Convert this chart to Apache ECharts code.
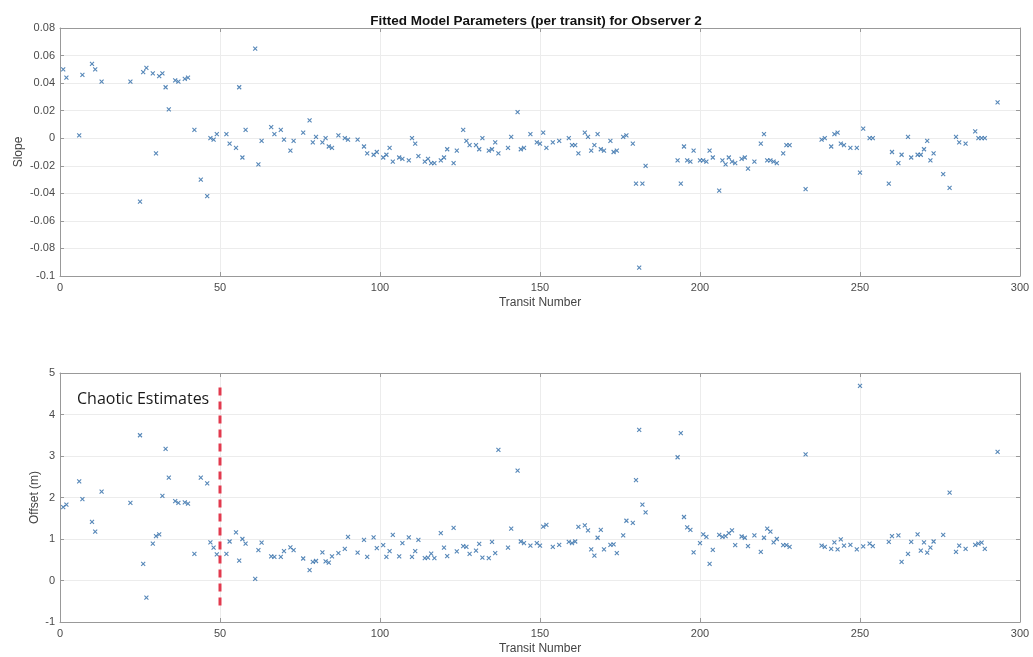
<!DOCTYPE html>
<html>
<head>
<meta charset="utf-8">
<script src="https://cdn.jsdelivr.net/npm/echarts@6/dist/echarts.min.js"></script>
<style>html,body{margin:0;padding:0;background:#fff;}#chart{width:1033px;height:657px;}</style>
</head>
<body>
<div id="chart"></div>
<script>
// Transit numbers (shared by both panels)
const transits = [
  1,2,6,7,10,11,13,22,25,26,
  27,29,30,31,32,33,34,36,37,39,
  40,42,44,46,47,48,49,52,53,55,
  56,57,58,61,62,63,66,67,69,70,
  72,73,76,78,79,80,82,83,84,85,
  87,89,90,93,95,96,98,99,101,102,
  103,104,106,107,109,110,111,112,114,115,
  116,117,119,120,121,123,124,126,127,128,
  130,131,132,134,135,136,137,140,141,143,
  144,145,147,149,150,151,152,154,156,159,
  160,161,162,164,165,166,167,168,169,170,
  172,173,174,176,177,179,180,181,182,183,
  193,194,195,196,197,198,200,201,202,203,
  204,206,207,208,209,210,211,213,214,215,
  217,219,220,221,222,223,224,226,227,228,
  233,238,239,241,242,243,244,245,247,249,
  250,251,253,254,259,260,262,263,265,266,
  268,269,270,271,272,273,276,278,280,281,
  283,286,287,288,289,293
];
// Slope per transit
const slopeValues = [
  0.050,0.044,0.002,0.046,0.054,0.050,0.041,0.041,-0.046,0.048,
  0.051,0.047,-0.011,0.045,0.047,0.037,0.021,0.042,0.041,0.043,
  0.044,0.006,-0.030,-0.042,0.000,-0.001,0.003,0.003,-0.004,-0.007,
  0.037,-0.014,0.006,0.065,-0.019,-0.002,0.008,0.003,0.006,-0.001,
  -0.009,-0.002,0.004,0.013,-0.003,0.001,-0.003,0.000,-0.006,-0.007,
  0.002,0.000,-0.001,-0.001,-0.006,-0.011,-0.012,-0.010,-0.014,-0.012,
  -0.007,-0.017,-0.014,-0.015,-0.016,0.000,-0.004,-0.013,-0.017,-0.015,
  -0.018,-0.018,-0.016,-0.014,-0.008,-0.018,-0.009,0.006,-0.002,-0.005,
  -0.005,-0.008,0.000,-0.009,-0.008,-0.003,-0.011,-0.007,0.001,0.019,
  -0.008,-0.007,0.003,-0.003,-0.004,0.004,-0.007,-0.003,-0.002,0.000,
  -0.005,-0.005,-0.011,0.004,0.001,-0.009,-0.005,0.003,-0.008,-0.009,
  -0.002,-0.010,-0.009,0.001,0.002,-0.004,-0.033,-0.094,-0.033,-0.020,
  -0.016,-0.033,-0.006,-0.016,-0.017,-0.009,-0.016,-0.016,-0.017,-0.009,
  -0.014,-0.038,-0.016,-0.019,-0.014,-0.017,-0.018,-0.015,-0.014,-0.022,
  -0.017,-0.004,0.003,-0.016,-0.016,-0.017,-0.018,-0.011,-0.005,-0.005,
  -0.037,-0.001,0.000,-0.006,0.003,0.004,-0.004,-0.005,-0.007,-0.007,
  -0.025,0.007,0.000,0.000,-0.033,-0.010,-0.018,-0.012,0.001,-0.014,
  -0.012,-0.012,-0.008,-0.002,-0.016,-0.011,-0.026,-0.036,0.001,-0.003,
  -0.004,0.005,0.000,0.000,0.000,0.026
];
// Offset (m) per transit
const offsetValues = [
  1.77,1.83,2.39,1.96,1.41,1.18,2.14,1.87,3.50,0.40,
  -0.41,0.89,1.07,1.11,2.04,3.17,2.48,1.91,1.87,1.88,
  1.85,0.64,2.48,2.34,0.92,0.79,0.63,0.64,0.94,1.16,
  0.48,1.00,0.89,0.04,0.73,0.91,0.58,0.57,0.57,0.71,
  0.80,0.73,0.53,0.25,0.45,0.47,0.68,0.46,0.43,0.58,
  0.66,0.76,1.05,0.67,0.98,0.57,1.04,0.78,0.85,0.57,
  0.71,1.10,0.58,0.90,1.04,0.57,0.71,0.98,0.54,0.55,
  0.65,0.54,1.14,0.79,0.59,1.27,0.70,0.83,0.81,0.64,
  0.72,0.88,0.55,0.54,0.93,0.66,3.15,0.79,1.25,2.65,
  0.94,0.90,0.84,0.90,0.84,1.30,1.34,0.81,0.86,0.93,
  0.90,0.94,1.29,1.33,1.21,0.75,0.60,1.03,1.22,0.75,
  0.86,0.87,0.66,1.09,1.44,1.39,2.42,3.63,1.83,1.64,
  2.97,3.55,1.53,1.28,1.22,0.68,0.90,1.11,1.05,0.40,
  0.74,1.10,1.05,1.07,1.14,1.21,0.85,1.06,1.03,0.83,
  1.09,0.69,1.03,1.25,1.18,0.92,1.00,0.85,0.85,0.81,
  3.04,0.84,0.81,0.76,0.92,0.75,0.99,0.84,0.86,0.75,
  4.69,0.82,0.89,0.83,0.93,1.07,1.09,0.45,0.64,0.93,
  1.11,0.72,0.92,0.67,0.79,0.94,1.10,2.12,0.69,0.84,
  0.76,0.86,0.89,0.91,0.76,3.10
];
// Chaotic-estimates boundary line
const boundaryX = [50, 50];
const boundaryY = [4.65, -0.65];
const titleText = 'Fitted Model Parameters (per transit) for Observer 2';
const annotationText = 'Chaotic Estimates';

const FONT = '"Liberation Sans", Arial, sans-serif';
const MARK = '#2c69a6';
const slopeData = transits.map((t, i) => [t, slopeValues[i]]);
const offsetData = transits.map((t, i) => [t, offsetValues[i]]);
const lineData = boundaryX.map((x, i) => [x, boundaryY[i]]);

const axisLabel = {color: '#4a4a4a', fontSize: 11, fontFamily: FONT};
const gridLine = {show: true, lineStyle: {color: '#ececec', width: 1}};
const tick = {show: true, inside: true, length: 4, lineStyle: {color: '#999'}};

function xAx(gi, show) {
  return {
    type: 'value', gridIndex: gi, min: 0, max: 300, interval: 50,
    position: show ? 'bottom' : 'top',
    name: show ? 'Transit Number' : '', nameLocation: 'middle', nameGap: 21,
    nameTextStyle: {color: '#444', fontSize: 12, fontFamily: FONT},
    axisLine: {show: true, onZero: false, lineStyle: {color: '#999'}},
    axisTick: tick, axisLabel: Object.assign({show: show, margin: 6}, axisLabel),
    splitLine: show ? gridLine : {show: false}
  };
}
function yAx(gi, show, min, max, interval, name, gap) {
  return {
    type: 'value', gridIndex: gi, min: min, max: max, interval: interval,
    position: show ? 'left' : 'right',
    name: show ? name : '', nameLocation: 'middle', nameGap: gap, nameRotate: 90,
    nameMoveOverlap: false,
    nameTextStyle: {color: '#444', fontSize: 12, fontFamily: FONT},
    axisLine: {show: true, onZero: false, lineStyle: {color: '#999'}},
    axisTick: tick, axisLabel: Object.assign({show: show, margin: 5}, axisLabel),
    splitLine: show ? gridLine : {show: false}
  };
}

const chart = echarts.init(document.getElementById('chart'), null, {renderer: 'canvas'});
const marker = {
  type: 'scatter', symbol: 'path://M0,0L10,10M10,0L0,10', symbolSize: 4,
  itemStyle: {color: 'rgba(0,0,0,0)', borderColor: MARK, borderWidth: 1.1},
  emphasis: {disabled: true}, silent: true
};
chart.setOption({
  animation: false,
  backgroundColor: '#fff',
  title: {
    text: titleText, left: 531, textAlign: 'center', top: 9,
    textStyle: {fontSize: 13.5, fontWeight: 'bold', color: '#111', fontFamily: FONT}
  },
  grid: [
    {left: 60, top: 28, width: 960, height: 248},
    {left: 60, top: 373, width: 960, height: 249}
  ],
  xAxis: [xAx(0, true), xAx(0, false), xAx(1, true), xAx(1, false)],
  yAxis: [
    yAx(0, true, -0.1, 0.08, 0.02, 'Slope', 35),
    yAx(0, false, -0.1, 0.08, 0.02, '', 0),
    yAx(1, true, -1, 5, 1, 'Offset (m)', 19),
    yAx(1, false, -1, 5, 1, '', 0)
  ],
  graphic: [{
    type: 'text', left: 77, top: 391,
    style: {text: annotationText, fontSize: 16, fontFamily: '"Open Sans", sans-serif', fill: '#1a1a1a'}
  }],
  series: [
    Object.assign({}, marker, {xAxisIndex: 0, yAxisIndex: 0, data: slopeData}),
    Object.assign({}, marker, {xAxisIndex: 2, yAxisIndex: 2, data: offsetData}),
    {
      type: 'line', xAxisIndex: 2, yAxisIndex: 2, data: lineData, symbol: 'none', silent: true,
      lineStyle: {color: '#e23a4e', width: 3, type: [8, 6]}
    }
  ]
});
</script>
</body>
</html>
